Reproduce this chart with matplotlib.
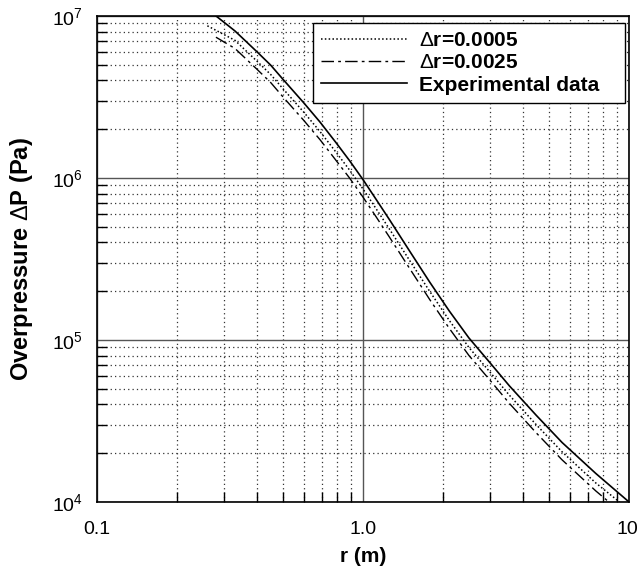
import numpy as np
import matplotlib
matplotlib.use("Agg")
import matplotlib.pyplot as plt
import matplotlib.transforms as mtransforms
from matplotlib.ticker import LogLocator, FixedLocator, FixedFormatter, NullFormatter

plt.rcParams['font.family'] = ['Liberation Sans', 'DejaVu Sans']
plt.rcParams['mathtext.fontset'] = 'custom'
plt.rcParams['mathtext.rm'] = 'Liberation Sans'
plt.rcParams['mathtext.it'] = 'Liberation Sans'

# overpressure vs distance
r_exp = [0.27, 0.33, 0.4, 0.45, 0.5, 0.6, 0.69, 0.79, 0.89, 1.0, 1.12, 1.26, 1.5,
         1.78, 2.11, 2.5, 3.0, 3.55, 4.47, 5.6, 7.5, 10.0]
p_exp = [1.05e7, 8.09e6, 6.0e6, 4.97e6, 4.07e6, 2.90e6, 2.21e6, 1.66e6, 1.28e6, 9.77e5,
         7.38e5, 5.50e5, 3.52e5, 2.28e5, 1.51e5, 1.03e5, 7.24e4, 5.21e4, 3.44e4, 2.33e4,
         1.50e4, 1.0e4]

r_fine = [0.26, 0.33, 0.4, 0.45, 0.5, 0.6, 0.69, 0.79, 0.89, 1.0, 1.12, 1.26, 1.5,
          1.78, 2.11, 2.5, 3.0, 3.55, 4.47, 5.6, 7.5, 9.2]
p_fine = [8.7e6, 7.08e6, 5.25e6, 4.35e6, 3.56e6, 2.54e6, 1.93e6, 1.45e6, 1.12e6, 8.55e5,
          6.46e5, 4.81e5, 3.08e5, 2.0e5, 1.32e5, 9.0e4, 6.34e4, 4.56e4, 3.01e4, 2.04e4,
          1.31e4, 1.0e4]

r_coarse = [0.28, 0.33, 0.4, 0.45, 0.5, 0.6, 0.69, 0.79, 0.89, 1.0, 1.12, 1.26, 1.5,
            1.78, 2.11, 2.5, 3.0, 3.55, 4.47, 5.6, 7.5, 8.4]
p_coarse = [7.4e6, 6.31e6, 4.68e6, 3.88e6, 3.17e6, 2.26e6, 1.72e6, 1.29e6, 1.0e6, 7.62e5,
            5.76e5, 4.29e5, 2.75e5, 1.78e5, 1.18e5, 8.03e4, 5.65e4, 4.06e4, 2.68e4, 1.82e4,
            1.17e4, 1.0e4]

series_labels = [r'$\Delta$r=0.0005', r'$\Delta$r=0.0025', 'Experimental data']

x_ticks = [0.1, 1.0, 10]
x_ticklabels = ['0.1', '1.0', '10']
y_ticks = [1e4, 1e5, 1e6, 1e7]
y_ticklabels = ['$10^{4}$', '$10^{5}$', '$10^{6}$', '$10^{7}$']

fig = plt.figure(figsize=(6.38, 5.70), dpi=100)
ax = fig.add_axes([0.152, 0.1193, 0.834, 0.8526])

ax.plot(r_fine, p_fine, color='black', lw=1.1, linestyle=(0, (1, 1.5)), label=series_labels[0])
ax.plot(r_coarse, p_coarse, color='black', lw=1.0, linestyle=(0, (9, 3, 2, 3)), label=series_labels[1])
ax.plot(r_exp, p_exp, color='black', lw=1.2, linestyle='-', label=series_labels[2] + '   ')

ax.set_xscale('log')
ax.set_yscale('log')
ax.set_xlim(0.1, 10)
ax.set_ylim(1e4, 1e7)

ax.xaxis.set_major_locator(FixedLocator(x_ticks))
ax.xaxis.set_major_formatter(FixedFormatter(x_ticklabels))
ax.yaxis.set_major_locator(FixedLocator(y_ticks))
ax.yaxis.set_major_formatter(FixedFormatter(y_ticklabels))
ax.xaxis.set_minor_locator(LogLocator(base=10, subs=np.arange(2, 10)))
ax.yaxis.set_minor_locator(LogLocator(base=10, subs=np.arange(2, 10)))
ax.xaxis.set_minor_formatter(NullFormatter())
ax.yaxis.set_minor_formatter(NullFormatter())

ax.grid(which='major', color='#555555', lw=1.0, linestyle='-')
ax.grid(which='minor', color='#333333', lw=0.9, linestyle=(0, (1, 2.5)))
ax.set_axisbelow(True)

ax.tick_params(which='both', direction='in', labelsize=14, color='black')
ax.tick_params(which='major', length=0)
ax.tick_params(axis='x', which='major', pad=14)
ax.tick_params(axis='y', which='major', pad=10)
ax.tick_params(which='minor', length=7, width=1.0)
for s in ax.spines.values():
    s.set_linewidth(1.2)

# keep the last x label inside the canvas
last = ax.get_xticklabels()[-1]
last.set_horizontalalignment('right')
offset = mtransforms.ScaledTranslation(9 / 100, 0, fig.dpi_scale_trans)
last.set_transform(last.get_transform() + offset)

ax.set_xlabel('r (m)', fontsize=15, fontweight='bold', labelpad=6)
ax.set_ylabel(r'Overpressure $\Delta$P (Pa)', fontsize=17, fontweight='bold', labelpad=12)

leg = ax.legend(loc='upper right', bbox_to_anchor=(625 / 638, 1 - 23 / 570),
                bbox_transform=fig.transFigure, borderaxespad=0,
                fancybox=False, framealpha=1, edgecolor='black',
                handlelength=4.1, handletextpad=0.6, labelspacing=0.15,
                borderpad=0.4, prop={'weight': 'bold', 'size': 15})
leg.get_frame().set_linewidth(1.0)

fig.savefig('out.png', dpi=100)
